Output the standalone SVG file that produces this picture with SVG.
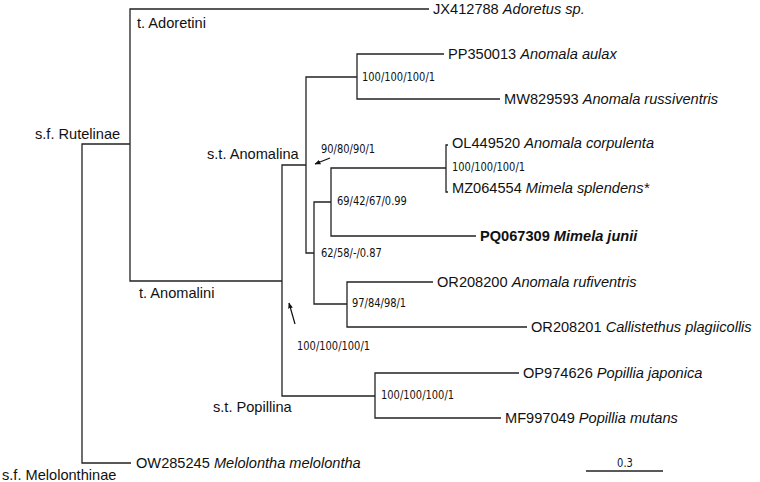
<svg xmlns="http://www.w3.org/2000/svg" width="760" height="482" viewBox="0 0 760 482">
<defs>
<marker id="ah" viewBox="0 0 10 10" refX="9" refY="5" markerWidth="6" markerHeight="6" orient="auto" markerUnits="userSpaceOnUse">
<path d="M0,1 L10,5 L0,9 Z" fill="#111"/>
</marker>
</defs>
<style>
.br{fill:none;stroke:#222;stroke-width:1.3}
.tx{font-family:"Liberation Sans",Arial,sans-serif;font-size:14.6px;fill:#111}
.cl{font-family:"Liberation Sans",Arial,sans-serif;font-size:14.6px;fill:#111}
.sp{font-family:"DejaVu Sans",sans-serif;font-size:11.4px;fill:#111}
.it{font-style:italic}
.ar{fill:none;stroke:#111;stroke-width:1.2}
</style>
<rect width="760" height="482" fill="#fff"/>
<g id="connectors">
<path class="br" d="M130,144 H82 V463 H131"/>
<path class="br" d="M429,9 H130 V281 H282"/>
<path class="br" d="M306,165 H282 V396 H375"/>
<path class="br" d="M357,77 H306 V253 H314"/>
<path class="br" d="M444,54 H357 V99 H500"/>
<path class="br" d="M331,202 H314 V304 H347"/>
<path class="br" d="M446,168 H331 V236 H476"/>
<path class="br" d="M448,145 H446 V192 H448"/>
<path class="br" d="M433,282 H347 V327 H527"/>
<path class="br" d="M519,373 H375 V418 H501"/>
<path class="ar" d="M330,158 L315,164" marker-end="url(#ah)"/>
<path class="ar" d="M295,324 L289,303" marker-end="url(#ah)"/>
</g>
<g id="tip-JX412788"><text class="tx" x="433" y="14">JX412788 <tspan class="it">Adoretus sp.</tspan></text></g>
<g id="tip-PP350013"><text class="tx" x="448" y="59">PP350013 <tspan class="it">Anomala aulax</tspan></text></g>
<g id="tip-MW829593"><text class="tx" x="504" y="104">MW829593 <tspan class="it">Anomala russiventris</tspan></text></g>
<g id="tip-OL449520"><text class="tx" x="452" y="148">OL449520 <tspan class="it">Anomala corpulenta</tspan></text></g>
<g id="tip-MZ064554"><text class="tx" x="452" y="193">MZ064554 <tspan class="it">Mimela splendens*</tspan></text></g>
<g id="tip-PQ067309"><text class="tx" x="480" y="241" font-weight="bold">PQ067309 <tspan class="it">Mimela junii</tspan></text></g>
<g id="tip-OR208200"><text class="tx" x="437" y="287">OR208200 <tspan class="it">Anomala rufiventris</tspan></text></g>
<g id="tip-OR208201"><text class="tx" x="531" y="332">OR208201 <tspan class="it">Callistethus plagiicollis</tspan></text></g>
<g id="tip-OP974626"><text class="tx" x="523" y="378">OP974626 <tspan class="it">Popillia japonica</tspan></text></g>
<g id="tip-MF997049"><text class="tx" x="505" y="423">MF997049 <tspan class="it">Popillia mutans</tspan></text></g>
<g id="tip-OW285245"><text class="tx" x="136" y="468">OW285245 <tspan class="it">Melolontha melolontha</tspan></text></g>
<g id="clade-adoretini"><text class="cl" x="137" y="28">t. Adoretini</text></g>
<g id="clade-rutelinae"><text class="cl" x="35" y="139">s.f. Rutelinae</text></g>
<g id="clade-anomalina"><text class="cl" x="207" y="159">s.t. Anomalina</text></g>
<g id="clade-anomalini"><text class="cl" x="139" y="298">t. Anomalini</text></g>
<g id="clade-popillina"><text class="cl" x="213" y="412">s.t. Popillina</text></g>
<g id="clade-melolonthinae"><text class="cl" x="2" y="480">s.f. Melolonthinae</text></g>
<g id="support-aulax" transform="translate(362,81) scale(0.87,1)"><text class="sp">100/100/100/1</text></g>
<g id="support-anomalina" transform="translate(321,153) scale(0.87,1)"><text class="sp">90/80/90/1</text></g>
<g id="support-corpulenta" transform="translate(452,171) scale(0.87,1)"><text class="sp">100/100/100/1</text></g>
<g id="support-mimela" transform="translate(337,205) scale(0.87,1)"><text class="sp">69/42/67/0.99</text></g>
<g id="support-62" transform="translate(321,257) scale(0.87,1)"><text class="sp">62/58/-/0.87</text></g>
<g id="support-97" transform="translate(352,307) scale(0.87,1)"><text class="sp">97/84/98/1</text></g>
<g id="support-anomalini" transform="translate(297,350) scale(0.87,1)"><text class="sp">100/100/100/1</text></g>
<g id="support-popillia" transform="translate(381,399) scale(0.87,1)"><text class="sp">100/100/100/1</text></g>
<g id="scale-bar">
<path class="br" d="M586,471 H663"/>
<g transform="translate(625,467) scale(0.87,1)"><text class="sp" text-anchor="middle">0.3</text></g>
</g>
</svg>
